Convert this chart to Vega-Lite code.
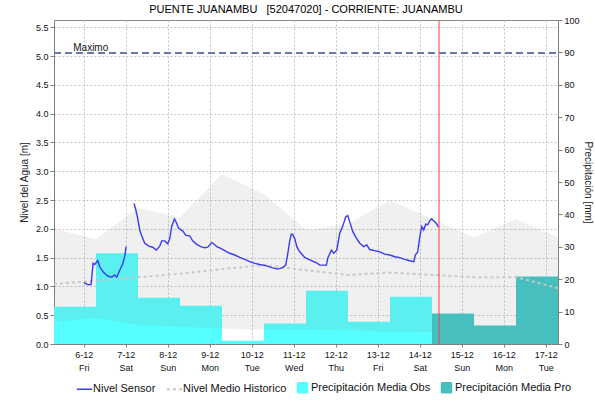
{
  "$schema": "https://vega.github.io/schema/vega-lite/v6.json",
  "width": 504,
  "height": 324,
  "autosize": {"type": "none"},
  "padding": {"left": 54, "top": 20, "right": 37, "bottom": 60},
  "title": {"text": "PUENTE JUANAMBU\u00a0\u00a0 [52047020] - CORRIENTE: JUANAMBU", "fontSize": 11, "fontWeight": "normal", "font": "Liberation Sans", "color": "#000", "offset": 8, "dy": 7, "anchor": "middle", "frame": "group"},
  "config": {
    "font": "Liberation Sans",
    "view": {"stroke": "#8a8a8a"},
    "axis": {"labelFont": "Liberation Sans", "titleFont": "Liberation Sans", "labelColor": "#111", "titleColor": "#222", "titleFontWeight": "normal", "titleFontSize": 10, "labelFontSize": 9, "domainColor": "#808080", "tickColor": "#808080", "labelOverlap": false}
  },
  "datasets": {
    "obs": [
      {"t": "2024-12-05T07:00", "t2": "2024-12-06T07:00", "mm": 11.5},
      {"t": "2024-12-06T07:00", "t2": "2024-12-07T07:00", "mm": 28.0},
      {"t": "2024-12-07T07:00", "t2": "2024-12-08T07:00", "mm": 14.3},
      {"t": "2024-12-08T07:00", "t2": "2024-12-09T07:00", "mm": 11.8},
      {"t": "2024-12-09T07:00", "t2": "2024-12-10T07:00", "mm": 1.0},
      {"t": "2024-12-10T07:00", "t2": "2024-12-11T07:00", "mm": 6.3},
      {"t": "2024-12-11T07:00", "t2": "2024-12-12T07:00", "mm": 16.4},
      {"t": "2024-12-12T07:00", "t2": "2024-12-13T07:00", "mm": 6.9},
      {"t": "2024-12-13T07:00", "t2": "2024-12-14T07:00", "mm": 14.6}
    ],
    "pro": [
      {"t": "2024-12-14T07:00", "t2": "2024-12-15T07:00", "mm": 9.4},
      {"t": "2024-12-15T07:00", "t2": "2024-12-16T07:00", "mm": 5.7},
      {"t": "2024-12-16T07:00", "t2": "2024-12-17T07:00", "mm": 20.8}
    ],
    "banda": [
      {"t": "2024-12-05T07:00", "max": 2.00, "min": 0.38},
      {"t": "2024-12-06T07:00", "max": 1.82, "min": 0.45},
      {"t": "2024-12-07T07:00", "max": 2.36, "min": 0.33},
      {"t": "2024-12-08T07:00", "max": 2.20, "min": 0.30},
      {"t": "2024-12-09T07:00", "max": 2.95, "min": 0.27},
      {"t": "2024-12-10T07:00", "max": 2.60, "min": 0.25},
      {"t": "2024-12-11T07:00", "max": 1.98, "min": 0.25},
      {"t": "2024-12-12T07:00", "max": 2.08, "min": 0.24},
      {"t": "2024-12-13T07:00", "max": 2.50, "min": 0.21},
      {"t": "2024-12-14T07:00", "max": 2.17, "min": 0.20},
      {"t": "2024-12-15T07:00", "max": 1.85, "min": 0.20},
      {"t": "2024-12-16T07:00", "max": 2.17, "min": 0.20},
      {"t": "2024-12-17T07:00", "max": 1.85, "min": 0.20}
    ],
    "historico": [
      {"t": "2024-12-05T07:00", "v": 1.04},
      {"t": "2024-12-06T07:00", "v": 1.10},
      {"t": "2024-12-07T07:00", "v": 1.16},
      {"t": "2024-12-08T07:00", "v": 1.22},
      {"t": "2024-12-09T07:00", "v": 1.30},
      {"t": "2024-12-10T07:00", "v": 1.37},
      {"t": "2024-12-11T07:00", "v": 1.28},
      {"t": "2024-12-12T07:00", "v": 1.20},
      {"t": "2024-12-13T07:00", "v": 1.24},
      {"t": "2024-12-14T07:00", "v": 1.20},
      {"t": "2024-12-15T07:00", "v": 1.16},
      {"t": "2024-12-16T07:00", "v": 1.16},
      {"t": "2024-12-17T07:00", "v": 0.97}
    ],
    "sensor": [
      {"t": "2024-12-06T00:00", "v": 1.065, "seg": "a"},
      {"t": "2024-12-06T02:20", "v": 1.03, "seg": "a"},
      {"t": "2024-12-06T04:10", "v": 1.03, "seg": "a"},
      {"t": "2024-12-06T05:20", "v": 1.40, "seg": "a"},
      {"t": "2024-12-06T06:15", "v": 1.38, "seg": "a"},
      {"t": "2024-12-06T08:00", "v": 1.45, "seg": "a"},
      {"t": "2024-12-06T09:10", "v": 1.34, "seg": "a"},
      {"t": "2024-12-06T11:25", "v": 1.24, "seg": "a"},
      {"t": "2024-12-06T13:45", "v": 1.18, "seg": "a"},
      {"t": "2024-12-06T16:00", "v": 1.16, "seg": "a"},
      {"t": "2024-12-06T17:40", "v": 1.20, "seg": "a"},
      {"t": "2024-12-06T18:50", "v": 1.16, "seg": "a"},
      {"t": "2024-12-06T20:35", "v": 1.28, "seg": "a"},
      {"t": "2024-12-06T22:15", "v": 1.39, "seg": "a"},
      {"t": "2024-12-06T23:25", "v": 1.52, "seg": "a"},
      {"t": "2024-12-07T00:10", "v": 1.69, "seg": "a"},
      {"t": "2024-12-07T04:45", "v": 2.44, "seg": "b"},
      {"t": "2024-12-07T05:45", "v": 2.33, "seg": "b"},
      {"t": "2024-12-07T06:50", "v": 2.18, "seg": "b"},
      {"t": "2024-12-07T08:00", "v": 1.98, "seg": "b"},
      {"t": "2024-12-07T09:10", "v": 1.875, "seg": "b"},
      {"t": "2024-12-07T10:50", "v": 1.75, "seg": "b"},
      {"t": "2024-12-07T13:10", "v": 1.70, "seg": "b"},
      {"t": "2024-12-07T15:25", "v": 1.68, "seg": "b"},
      {"t": "2024-12-07T17:30", "v": 1.63, "seg": "b"},
      {"t": "2024-12-07T19:25", "v": 1.70, "seg": "b"},
      {"t": "2024-12-07T20:35", "v": 1.79, "seg": "b"},
      {"t": "2024-12-07T22:15", "v": 1.79, "seg": "b"},
      {"t": "2024-12-08T00:00", "v": 1.74, "seg": "b"},
      {"t": "2024-12-08T01:10", "v": 1.83, "seg": "b"},
      {"t": "2024-12-08T02:15", "v": 2.04, "seg": "b"},
      {"t": "2024-12-08T03:50", "v": 2.17, "seg": "b"},
      {"t": "2024-12-08T05:00", "v": 2.10, "seg": "b"},
      {"t": "2024-12-08T06:15", "v": 2.01, "seg": "b"},
      {"t": "2024-12-08T08:35", "v": 1.96, "seg": "b"},
      {"t": "2024-12-08T10:15", "v": 1.89, "seg": "b"},
      {"t": "2024-12-08T12:35", "v": 1.875, "seg": "b"},
      {"t": "2024-12-08T14:15", "v": 1.79, "seg": "b"},
      {"t": "2024-12-08T16:35", "v": 1.73, "seg": "b"},
      {"t": "2024-12-08T18:50", "v": 1.69, "seg": "b"},
      {"t": "2024-12-08T21:10", "v": 1.67, "seg": "b"},
      {"t": "2024-12-08T22:50", "v": 1.68, "seg": "b"},
      {"t": "2024-12-09T01:10", "v": 1.76, "seg": "b"},
      {"t": "2024-12-09T02:15", "v": 1.74, "seg": "b"},
      {"t": "2024-12-09T04:00", "v": 1.69, "seg": "b"},
      {"t": "2024-12-09T06:15", "v": 1.66, "seg": "b"},
      {"t": "2024-12-09T08:35", "v": 1.62, "seg": "b"},
      {"t": "2024-12-09T11:25", "v": 1.575, "seg": "b"},
      {"t": "2024-12-09T14:15", "v": 1.545, "seg": "b"},
      {"t": "2024-12-09T17:10", "v": 1.505, "seg": "b"},
      {"t": "2024-12-09T20:00", "v": 1.47, "seg": "b"},
      {"t": "2024-12-09T22:50", "v": 1.43, "seg": "b"},
      {"t": "2024-12-10T01:45", "v": 1.40, "seg": "b"},
      {"t": "2024-12-10T04:35", "v": 1.38, "seg": "b"},
      {"t": "2024-12-10T08:00", "v": 1.36, "seg": "b"},
      {"t": "2024-12-10T11:25", "v": 1.325, "seg": "b"},
      {"t": "2024-12-10T14:50", "v": 1.30, "seg": "b"},
      {"t": "2024-12-10T17:45", "v": 1.325, "seg": "b"},
      {"t": "2024-12-10T19:25", "v": 1.37, "seg": "b"},
      {"t": "2024-12-10T20:35", "v": 1.57, "seg": "b"},
      {"t": "2024-12-10T21:45", "v": 1.80, "seg": "b"},
      {"t": "2024-12-10T22:40", "v": 1.91, "seg": "b"},
      {"t": "2024-12-10T23:25", "v": 1.90, "seg": "b"},
      {"t": "2024-12-11T00:35", "v": 1.83, "seg": "b"},
      {"t": "2024-12-11T01:45", "v": 1.69, "seg": "b"},
      {"t": "2024-12-11T03:25", "v": 1.60, "seg": "b"},
      {"t": "2024-12-11T06:15", "v": 1.505, "seg": "b"},
      {"t": "2024-12-11T09:10", "v": 1.46, "seg": "b"},
      {"t": "2024-12-11T13:00", "v": 1.41, "seg": "b"},
      {"t": "2024-12-11T14:50", "v": 1.37, "seg": "b"},
      {"t": "2024-12-11T18:40", "v": 1.37, "seg": "b"},
      {"t": "2024-12-11T19:25", "v": 1.49, "seg": "b"},
      {"t": "2024-12-11T21:30", "v": 1.63, "seg": "b"},
      {"t": "2024-12-11T22:50", "v": 1.575, "seg": "b"},
      {"t": "2024-12-12T00:35", "v": 1.63, "seg": "b"},
      {"t": "2024-12-12T02:15", "v": 1.92, "seg": "b"},
      {"t": "2024-12-12T04:00", "v": 2.05, "seg": "b"},
      {"t": "2024-12-12T05:45", "v": 2.21, "seg": "b"},
      {"t": "2024-12-12T06:50", "v": 2.23, "seg": "b"},
      {"t": "2024-12-12T08:00", "v": 2.12, "seg": "b"},
      {"t": "2024-12-12T09:45", "v": 1.95, "seg": "b"},
      {"t": "2024-12-12T11:50", "v": 1.835, "seg": "b"},
      {"t": "2024-12-12T13:45", "v": 1.75, "seg": "b"},
      {"t": "2024-12-12T16:00", "v": 1.69, "seg": "b"},
      {"t": "2024-12-12T17:45", "v": 1.72, "seg": "b"},
      {"t": "2024-12-12T19:25", "v": 1.64, "seg": "b"},
      {"t": "2024-12-12T22:15", "v": 1.62, "seg": "b"},
      {"t": "2024-12-13T01:10", "v": 1.60, "seg": "b"},
      {"t": "2024-12-13T04:00", "v": 1.56, "seg": "b"},
      {"t": "2024-12-13T06:50", "v": 1.545, "seg": "b"},
      {"t": "2024-12-13T09:45", "v": 1.515, "seg": "b"},
      {"t": "2024-12-13T12:35", "v": 1.50, "seg": "b"},
      {"t": "2024-12-13T15:25", "v": 1.47, "seg": "b"},
      {"t": "2024-12-13T18:15", "v": 1.445, "seg": "b"},
      {"t": "2024-12-13T20:35", "v": 1.43, "seg": "b"},
      {"t": "2024-12-13T21:30", "v": 1.545, "seg": "b"},
      {"t": "2024-12-13T22:50", "v": 1.60, "seg": "b"},
      {"t": "2024-12-14T00:00", "v": 1.86, "seg": "b"},
      {"t": "2024-12-14T01:10", "v": 2.04, "seg": "b"},
      {"t": "2024-12-14T02:15", "v": 1.98, "seg": "b"},
      {"t": "2024-12-14T03:25", "v": 2.08, "seg": "b"},
      {"t": "2024-12-14T04:35", "v": 2.07, "seg": "b"},
      {"t": "2024-12-14T05:45", "v": 2.14, "seg": "b"},
      {"t": "2024-12-14T06:50", "v": 2.175, "seg": "b"},
      {"t": "2024-12-14T08:00", "v": 2.135, "seg": "b"},
      {"t": "2024-12-14T09:10", "v": 2.105, "seg": "b"},
      {"t": "2024-12-14T10:15", "v": 2.05, "seg": "b"},
      {"t": "2024-12-14T10:50", "v": 2.03, "seg": "b"}
    ],
    "maximo": [{"t": "2024-12-05T07:00", "t2": "2024-12-17T07:00", "v": 5.05, "label": "Maximo", "tl": "2024-12-05T18:00"}],
    "ahora": [{"t": "2024-12-14T11:00"}]
  },
  "encoding": {
    "x": {
      "field": "t",
      "type": "temporal",
      "title": null,
      "scale": {"domain": [{"year": 2024, "month": 12, "date": 5, "hours": 7}, {"year": 2024, "month": 12, "date": 17, "hours": 7}]},
      "axis": {
        "title": null,
        "tickCount": {"interval": "day", "step": 1},
        "labelExpr": "[timeFormat(datum.value, '%-d-%m'), timeFormat(datum.value, '%a')]",
        "labelFontSize": 9,
        "labelLineHeight": 13,
        "labelPadding": 3,
        "tickSize": 3,
        "grid": true,
        "gridDash": [2, 2],
        "gridColor": "#c4c4c4",
        "domainColor": "#555555",
        "domainDash": [1, 1],
        "labelOverlap": false,
        "labelFlush": false
      }
    }
  },
  "layer": [
    {
      "data": {"name": "obs"},
      "mark": {"type": "rect", "color": "#55ffff"},
      "encoding": {
        "x2": {"field": "t2"},
        "y": {"field": "mm", "type": "quantitative", "scale": {"domain": [0, 100], "nice": false},
          "axis": {"orient": "right", "title": "Precipitación [mm]", "values": [0, 10, 20, 30, 40, 50, 60, 70, 80, 90, 100], "grid": false, "tickSize": 4, "labelPadding": 2, "titlePadding": 3}},
        "y2": {"datum": 0},
        "color": {
          "datum": "Precipitación Media Obs",
          "scale": {"domain": ["Nivel Sensor", "Nivel Medio Historico", "Precipitación Media Obs", "Precipitación Media Pro"], "range": ["#3a3af0", "#c8c8c8", "#55ffff", "#48bfbf"]},
          "legend": {
            "title": null,
            "orient": "none",
            "direction": "horizontal",
            "legendX": 25,
            "legendY": 362,
            "labelFontSize": 11,
            "labelFont": "Liberation Sans",
            "labelColor": "#111",
            "symbolSize": 225,
            "labelOffset": 3,
            "columnPadding": 7,
            "encode": {
              "symbols": {
                "update": {
                  "shape": {"signal": "datum.value == 'Nivel Sensor' || datum.value == 'Nivel Medio Historico' ? 'M-1,0H1' : 'square'"},
                  "size": {"signal": "datum.value == 'Nivel Sensor' || datum.value == 'Nivel Medio Historico' ? 225 : 100"},
                  "fill": {"signal": "datum.value == 'Precipitación Media Obs' ? '#55ffff' : datum.value == 'Precipitación Media Pro' ? '#48bfbf' : 'transparent'"},
                  "stroke": {"signal": "datum.value == 'Nivel Sensor' ? '#2222ee' : datum.value == 'Nivel Medio Historico' ? '#cccccc' : 'transparent'"},
                  "strokeWidth": {"signal": "datum.value == 'Nivel Medio Historico' ? 2 : 1.5"},
                  "strokeDash": {"signal": "datum.value == 'Nivel Medio Historico' ? [3, 3] : [1, 0]"},
                  "opacity": {"value": 1}
                }
              }
            }
          }
        }
      }
    },
    {
      "data": {"name": "banda"},
      "mark": {"type": "area", "color": "#808080", "opacity": 0.118},
      "encoding": {
        "y": {"field": "max", "type": "quantitative", "scale": {"domain": [0, 5.625], "nice": false}, "axis": null},
        "y2": {"field": "min"}
      }
    },
    {
      "data": {"name": "pro"},
      "mark": {"type": "rect", "color": "#48bfbf"},
      "encoding": {
        "x2": {"field": "t2"},
        "y": {"field": "mm", "type": "quantitative", "scale": {"domain": [0, 100], "nice": false}, "axis": null},
        "y2": {"datum": 0},
        "color": {"datum": "Precipitación Media Pro"}
      }
    },
    {
      "encoding": {
        "y": {"field": "v", "type": "quantitative", "scale": {"domain": [0, 5.625], "nice": false},
          "axis": {"orient": "left", "title": "Nivel del Agua [m]", "values": [0, 0.5, 1, 1.5, 2, 2.5, 3, 3.5, 4, 4.5, 5, 5.5], "format": ".1f", "grid": true, "gridDash": [2, 2], "gridColor": "#c4c4c4", "tickSize": 4, "labelPadding": 2, "titlePadding": 6, "labelOverlap": false}}
      },
      "layer": [
        {
          "data": {"name": "historico"},
          "mark": {"type": "line", "strokeWidth": 2, "strokeDash": [3, 3]},
          "encoding": {
            "color": {"datum": "Nivel Medio Historico"}
          }
        },
        {
          "data": {"name": "maximo"},
          "mark": {"type": "rule", "color": "#6a7aa8", "strokeWidth": 2, "strokeDash": [7, 4]},
          "encoding": {
            "x2": {"field": "t2"}
          }
        },
        {
          "data": {"name": "maximo"},
          "mark": {"type": "text", "align": "left", "baseline": "bottom", "dy": 0, "fontSize": 10, "color": "#111"},
          "encoding": {
            "x": {"field": "tl", "type": "temporal"},
            "text": {"field": "label"}
          }
        },
        {
          "data": {"name": "sensor"},
          "mark": {"type": "line", "strokeWidth": 1.4},
          "encoding": {
            "detail": {"field": "seg"},
            "color": {"datum": "Nivel Sensor"}
          }
        }
      ]
    },
    {
      "data": {"name": "ahora"},
      "mark": {"type": "rule", "color": "#ff3b3b", "strokeWidth": 1},
      "encoding": {}
    }
  ],
  "resolve": {"scale": {"y": "independent"}, "axis": {"y": "independent"}}
}
